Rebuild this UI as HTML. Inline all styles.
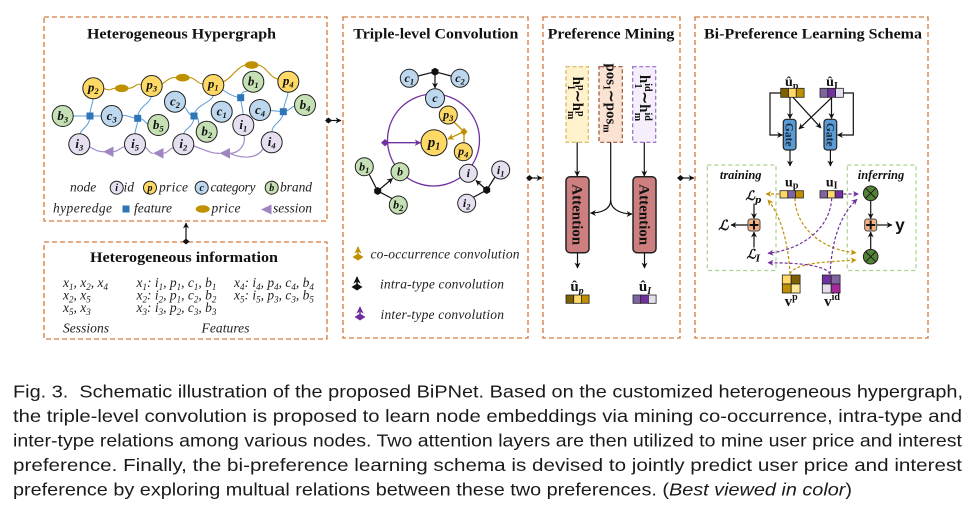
<!DOCTYPE html>
<html><head><meta charset="utf-8">
<style>
html,body{margin:0;padding:0;background:#fff;}
svg{display:block;}
.ttl{font-family:"Liberation Serif",serif;font-weight:bold;font-size:15px;fill:#111;}
.nl{font-family:"Liberation Serif",serif;font-style:italic;font-weight:bold;font-size:13px;fill:#111;}
.s{font-size:8.5px;}
.it{font-family:"Liberation Serif",serif;font-style:italic;font-size:13.5px;fill:#222;}
.sb{font-size:9px;}
.bx{fill:none;stroke:#d37a3c;stroke-width:1.3;stroke-dasharray:5,3;}
.nd{stroke:#222;stroke-width:1;}
.y{fill:#ffd966}.b{fill:#bdd7ee}.g{fill:#c5e0b4}.v{fill:#e6dff0}
.bl{fill:none;stroke:#5b9bd5;stroke-width:1;}
.gd{fill:none;stroke:#bf9000;stroke-width:1.1;}
.pu{fill:none;stroke:#a48bc9;stroke-width:1.2;}
.k{fill:none;stroke:#111;stroke-width:1.2;}
.cap{font-family:"Liberation Sans",sans-serif;font-size:17.5px;fill:#1a1a1a;}
.bd{font-family:"Liberation Serif",serif;font-weight:bold;fill:#111;}
.dg{fill:none;stroke:#bf9000;stroke-width:1.2;stroke-dasharray:3,2;}
.dp{fill:none;stroke:#7030a0;stroke-width:1.2;stroke-dasharray:3,2;}
</style></head>
<body>
<svg width="978" height="520" viewBox="0 0 978 520" xmlns="http://www.w3.org/2000/svg">
<defs>
<marker id="ak" viewBox="0 0 10 10" refX="9" refY="5" markerWidth="5" markerHeight="5" orient="auto"><path d="M0,0 L10,5 L0,10 L3,5z" fill="#111"/></marker>
<marker id="ag" viewBox="0 0 10 10" refX="9" refY="5" markerWidth="5" markerHeight="5" orient="auto"><path d="M0,0 L10,5 L0,10 L3,5z" fill="#bf9000"/></marker>
<marker id="ap" viewBox="0 0 10 10" refX="9" refY="5" markerWidth="5" markerHeight="5" orient="auto"><path d="M0,0 L10,5 L0,10 L3,5z" fill="#7030a0"/></marker>
</defs>
<rect width="978" height="520" fill="#fff"/>

<!-- boxes -->
<rect class="bx" x="44" y="17" width="283" height="204"/>
<rect class="bx" x="44" y="242" width="283" height="97"/>
<rect class="bx" x="343" y="17" width="185" height="321"/>
<rect class="bx" x="543" y="17" width="137" height="321"/>
<rect class="bx" x="695" y="17" width="233" height="321"/>

<!-- connectors -->
<path class="k" d="M328,120.5 L341,120.5" marker-end="url(#ak)"/>
<polygon points="325,120.5 328.5,117.5 332,120.5 328.5,123.5" fill="#111"/>
<path class="k" d="M530,178 L542,178" marker-end="url(#ak)"/>
<polygon points="526,178 529.5,175 533,178 529.5,181" fill="#111"/>
<path class="k" d="M682,178 L694,178" marker-end="url(#ak)"/>
<polygon points="677,178 680.5,175 684,178 680.5,181" fill="#111"/>
<path class="k" d="M186,240 L186,223" marker-end="url(#ak)"/>
<polygon points="182.5,241.5 186,238.5 189.5,241.5 186,244.5" fill="#111"/>

<!-- ===== Box 1 Hypergraph ===== -->
<text class="ttl" x="181.5" y="38.5" text-anchor="middle" textLength="189" lengthAdjust="spacingAndGlyphs">Heterogeneous Hypergraph</text>

<!-- blue feature edges -->
<path class="bl" d="M90,116 C90,106 93,104 93,99 M90,116 L73,116 M90,116 L101,116 M90,116 C90,126 82,128 80,134
M137.7,118.3 C138,106 150,104 151,97 M137.7,118.3 C130,118 126,114 122,116 M137.7,118.3 C144,118 146,124 148,124 M137.7,118.3 C138,126 135,128 135,134
M194,116 C188,116 186,106 184,107 M194,116 C195,105 212,102 213,96 M194,116 C200,116 198,124 199,125 M194,116 C194,128 184,128 184,134
M240.7,97.7 C232,97 226,92 223,90 M240.7,97.7 C241,90 247,92 247,91 M240.7,97.7 C241,105 243,108 243,114.5
M283.3,111.7 L270.5,110.5 M283.3,111.7 C290,111 292,106 295,106 M283.3,111.7 C284,102 288,98 288,92 M283.3,111.7 C283,122 272,124 272,131.5"/>
<!-- gold price edges -->
<path class="gd" d="M103.8,88.3 C110,92 112,88 115,88.3 M128,88.3 C134,89 137,82 141,85 M162,84 C168,80 170,77 176,77.7 M189,77.7 C195,77 197,84 203,84 M223,82 C232,78 236,68 245,65 M258,65 C266,66 270,78 278,79"/>
<!-- purple session edges -->
<path class="pu" d="M89.8,147 C95,150 99,152 104,151.7 M113,151.7 C118,152 122,146 124.5,147 M145.5,147 C150,152 150,153 153,153.3 M163.5,153.3 C168,153 170,148 173,148 M193.8,146 C205,150 212,154 220,153.3 M230,153.3 C240,153 246,144 244,135.5 M230,153.3 C240,158 256,160 263,149"/>
<!-- hyperedge shapes -->
<g fill="#2e75b6">
<rect x="86.5" y="112.5" width="7" height="7"/>
<rect x="134.2" y="114.8" width="7" height="7"/>
<rect x="190.5" y="112.5" width="7" height="7"/>
<rect x="237.2" y="94.2" width="7" height="7"/>
<rect x="279.8" y="108.2" width="7" height="7"/>
</g>
<g fill="#bf9000">
<ellipse cx="121.7" cy="88.3" rx="6.8" ry="3.8"/>
<ellipse cx="182.7" cy="77.7" rx="6.8" ry="3.8"/>
<ellipse cx="251.7" cy="65" rx="6.8" ry="3.8"/>
</g>
<g fill="#9f86c0">
<polygon points="103,151.7 113.5,146.5 113.5,157"/>
<polygon points="153,153.3 163.5,148 163.5,158.6"/>
<polygon points="219.5,153.3 230,148 230,158.6"/>
</g>
<!-- nodes -->
<g class="nd">
<circle class="y" cx="93.3" cy="88.3" r="10.5"/>
<circle class="y" cx="151.7" cy="86" r="10.5"/>
<circle class="y" cx="213.3" cy="85" r="10.5"/>
<circle class="g" cx="253.3" cy="81.7" r="10.5"/>
<circle class="y" cx="288.3" cy="81.7" r="10.5"/>
<circle class="b" cx="175" cy="101.7" r="10.5"/>
<circle class="b" cx="221.7" cy="111.7" r="10.5"/>
<circle class="b" cx="260" cy="110" r="10.5"/>
<circle class="g" cx="305" cy="105" r="10.5"/>
<circle class="g" cx="62.7" cy="116" r="10.5"/>
<circle class="b" cx="111.7" cy="116" r="10.5"/>
<circle class="g" cx="158.3" cy="125" r="10.5"/>
<circle class="g" cx="206.7" cy="131.7" r="10.5"/>
<circle class="v" cx="243.3" cy="125" r="10.5"/>
<circle class="v" cx="79.3" cy="144.3" r="10.5"/>
<circle class="v" cx="135" cy="144.3" r="10.5"/>
<circle class="v" cx="183.3" cy="144.3" r="10.5"/>
<circle class="v" cx="271.7" cy="142.3" r="10.5"/>
</g>
<g class="nl" text-anchor="middle">
<text x="93.3" y="91.5">p<tspan class="s" dy="2.5">2</tspan></text>
<text x="151.7" y="89.2">p<tspan class="s" dy="2.5">3</tspan></text>
<text x="213.3" y="88.2">p<tspan class="s" dy="2.5">1</tspan></text>
<text x="253.3" y="85.5">b<tspan class="s" dy="2.5">1</tspan></text>
<text x="288.3" y="84.9">p<tspan class="s" dy="2.5">4</tspan></text>
<text x="175" y="105.5">c<tspan class="s" dy="2.5">2</tspan></text>
<text x="221.7" y="115.5">c<tspan class="s" dy="2.5">1</tspan></text>
<text x="260" y="113.8">c<tspan class="s" dy="2.5">4</tspan></text>
<text x="305" y="108.8">b<tspan class="s" dy="2.5">4</tspan></text>
<text x="62.7" y="119.8">b<tspan class="s" dy="2.5">3</tspan></text>
<text x="111.7" y="119.8">c<tspan class="s" dy="2.5">3</tspan></text>
<text x="158.3" y="128.8">b<tspan class="s" dy="2.5">5</tspan></text>
<text x="206.7" y="135.5">b<tspan class="s" dy="2.5">2</tspan></text>
<text x="243.3" y="128.8">i<tspan class="s" dy="2.5">1</tspan></text>
<text x="79.3" y="148">i<tspan class="s" dy="2.5">3</tspan></text>
<text x="135" y="148">i<tspan class="s" dy="2.5">5</tspan></text>
<text x="183.3" y="148">i<tspan class="s" dy="2.5">2</tspan></text>
<text x="271.7" y="146">i<tspan class="s" dy="2.5">4</tspan></text>
</g>
<!-- legend -->
<g class="nd">
<circle class="v" cx="116.7" cy="187.7" r="6.5"/>
<circle class="y" cx="150" cy="187.7" r="6.5"/>
<circle class="b" cx="201.7" cy="187.7" r="6.5"/>
<circle class="g" cx="271.7" cy="187.7" r="6.5"/>
</g>
<g class="nl" text-anchor="middle" style="font-size:10px">
<text x="116.7" y="191">i</text><text x="150" y="191">p</text><text x="201.7" y="191">c</text><text x="271.7" y="191">b</text>
</g>
<g class="it">
<text x="70" y="191.5">node</text>
<text x="123.5" y="191.5">id</text>
<text x="159" y="191.5" textLength="29">price</text>
<text x="210.5" y="191.5" textLength="45">category</text>
<text x="280" y="191.5" textLength="32">brand</text>
<text x="53" y="212.5" textLength="59">hyperedge</text>
<text x="134" y="212.5" textLength="38">feature</text>
<text x="211.5" y="212.5" textLength="29">price</text>
<text x="273" y="212.5" textLength="39">session</text>
</g>
<rect x="122.5" y="205.5" width="7" height="7" fill="#2e75b6"/>
<ellipse cx="202.7" cy="209" rx="7" ry="3.8" fill="#bf9000"/>
<polygon points="261,209.5 271.5,204.5 271.5,214.5" fill="#9f86c0"/>

<!-- ===== Box 2 info ===== -->
<text class="ttl" x="184" y="262" text-anchor="middle" textLength="188" lengthAdjust="spacingAndGlyphs">Heterogeneous information</text>
<g class="it">
<text x="63" y="287">x<tspan class="sb" dy="3">1</tspan><tspan dy="-3">, x</tspan><tspan class="sb" dy="3">2</tspan><tspan dy="-3">, x</tspan><tspan class="sb" dy="3">4</tspan></text>
<text x="63" y="299.5">x<tspan class="sb" dy="3">2</tspan><tspan dy="-3">, x</tspan><tspan class="sb" dy="3">5</tspan></text>
<text x="63" y="312">x<tspan class="sb" dy="3">5</tspan><tspan dy="-3">, x</tspan><tspan class="sb" dy="3">3</tspan></text>
<text x="136.5" y="287">x<tspan class="sb" dy="3">1</tspan><tspan dy="-3">: i</tspan><tspan class="sb" dy="3">1</tspan><tspan dy="-3">, p</tspan><tspan class="sb" dy="3">1</tspan><tspan dy="-3">, c</tspan><tspan class="sb" dy="3">1</tspan><tspan dy="-3">, b</tspan><tspan class="sb" dy="3">1</tspan></text>
<text x="136.5" y="299.5">x<tspan class="sb" dy="3">2</tspan><tspan dy="-3">: i</tspan><tspan class="sb" dy="3">2</tspan><tspan dy="-3">, p</tspan><tspan class="sb" dy="3">1</tspan><tspan dy="-3">, c</tspan><tspan class="sb" dy="3">2</tspan><tspan dy="-3">, b</tspan><tspan class="sb" dy="3">2</tspan></text>
<text x="136.5" y="312">x<tspan class="sb" dy="3">3</tspan><tspan dy="-3">: i</tspan><tspan class="sb" dy="3">3</tspan><tspan dy="-3">, p</tspan><tspan class="sb" dy="3">2</tspan><tspan dy="-3">, c</tspan><tspan class="sb" dy="3">3</tspan><tspan dy="-3">, b</tspan><tspan class="sb" dy="3">3</tspan></text>
<text x="234" y="287">x<tspan class="sb" dy="3">4</tspan><tspan dy="-3">: i</tspan><tspan class="sb" dy="3">4</tspan><tspan dy="-3">, p</tspan><tspan class="sb" dy="3">4</tspan><tspan dy="-3">, c</tspan><tspan class="sb" dy="3">4</tspan><tspan dy="-3">, b</tspan><tspan class="sb" dy="3">4</tspan></text>
<text x="234" y="299.5">x<tspan class="sb" dy="3">5</tspan><tspan dy="-3">: i</tspan><tspan class="sb" dy="3">5</tspan><tspan dy="-3">, p</tspan><tspan class="sb" dy="3">3</tspan><tspan dy="-3">, c</tspan><tspan class="sb" dy="3">3</tspan><tspan dy="-3">, b</tspan><tspan class="sb" dy="3">5</tspan></text>
<text x="63" y="332.5" textLength="46">Sessions</text>
<text x="201.5" y="332.5" textLength="48">Features</text>
</g>

<!-- ===== Box 3 Triple-level ===== -->
<text class="ttl" x="435.8" y="38.5" text-anchor="middle" textLength="165" lengthAdjust="spacingAndGlyphs">Triple-level Convolution</text>
<circle cx="433.5" cy="140" r="46" fill="none" stroke="#7030a0" stroke-width="1.3"/>
<path class="k" d="M418,76 L435,71.7 L451,76"/>
<path class="k" d="M435,74 L435,88" marker-end="url(#ak)"/>
<polygon points="435,67.7 438.5,69.7 438.5,73.7 435,75.7 431.5,73.7 431.5,69.7" fill="#111"/>
<!-- purple inter-type -->
<path d="M388,142.7 L420.5,142.7" fill="none" stroke="#7030a0" stroke-width="1.3" marker-end="url(#ap)"/>
<polygon points="381,142.7 385,139 389,142.7 385,146.4" fill="#7030a0"/>
<!-- gold co-occurrence -->
<path class="gd" style="stroke-width:1.3" d="M454,122 L464,131.7 L464,142.7"/>
<path class="gd" style="stroke-width:1.3" d="M464,131.7 L448,139" marker-end="url(#ag)"/>
<polygon points="464,127.7 467.5,131.7 464,135.7 460.5,131.7" fill="#bf9000"/>
<!-- intra-type b / i -->
<path class="k" d="M369,174 L377.7,191 L392,198.5"/>
<path class="k" d="M377.7,191 L392.5,178.5" marker-end="url(#ak)"/>
<polygon points="377.7,187 381.2,189 381.2,193 377.7,195 374.2,193 374.2,189" fill="#111"/>
<path class="k" d="M495,177 L486.7,190 L473,197.5"/>
<path class="k" d="M486.7,190 L476,180.5" marker-end="url(#ak)"/>
<polygon points="486.7,186 490.2,188 490.2,192 486.7,194 483.2,192 483.2,188" fill="#111"/>
<g class="nd">
<circle class="b" cx="409.3" cy="78.3" r="9"/>
<circle class="b" cx="460" cy="78.3" r="9"/>
<circle class="b" cx="435" cy="98.3" r="9.5"/>
<circle class="y" cx="448.3" cy="115" r="9"/>
<circle class="y" cx="434" cy="142.7" r="13"/>
<circle class="y" cx="463.3" cy="151.7" r="9"/>
<circle class="g" cx="364.3" cy="166.7" r="9"/>
<circle class="g" cx="400" cy="171.7" r="9"/>
<circle class="g" cx="398.3" cy="205" r="9"/>
<circle class="v" cx="468.3" cy="173.3" r="9"/>
<circle class="v" cx="500.7" cy="170" r="9"/>
<circle class="v" cx="466.7" cy="203.3" r="9"/>
</g>
<g class="nl" text-anchor="middle" style="font-size:12px">
<text x="409.3" y="82">c<tspan class="s" dy="2.5">1</tspan></text>
<text x="460" y="82">c<tspan class="s" dy="2.5">2</tspan></text>
<text x="435" y="102">c</text>
<text x="448.3" y="118.5">p<tspan class="s" dy="2.5">3</tspan></text>
<text x="434" y="147" style="font-size:15px">p<tspan class="s" style="font-size:10px" dy="2.5">1</tspan></text>
<text x="463.3" y="155">p<tspan class="s" dy="2.5">4</tspan></text>
<text x="364.3" y="170.5">b<tspan class="s" dy="2.5">1</tspan></text>
<text x="400" y="175.5">b</text>
<text x="398.3" y="208.5">b<tspan class="s" dy="2.5">2</tspan></text>
<text x="468.3" y="177">i</text>
<text x="500.7" y="173.8">i<tspan class="s" dy="2.5">1</tspan></text>
<text x="466.7" y="207">i<tspan class="s" dy="2.5">2</tspan></text>
</g>
<!-- legend -->
<path d="M358,258 L358,247" stroke="#bf9000" stroke-width="1.5" marker-end="url(#ag)"/>
<polygon points="352.5,257 358,253.5 363.5,257 358,260.5" fill="#bf9000"/>
<path d="M357,288 L357,277" stroke="#111" stroke-width="1.5" marker-end="url(#ak)"/>
<polygon points="351.5,287 357,283.5 362.5,287 357,290.5" fill="#111"/>
<path d="M360,318 L360,307" stroke="#7030a0" stroke-width="1.5" marker-end="url(#ap)"/>
<polygon points="354.5,317 360,313.5 365.5,317 360,320.5" fill="#7030a0"/>
<g class="it">
<text x="370.5" y="258.5" textLength="149">co-occurrence convolution</text>
<text x="380" y="288.5" textLength="124">intra-type convolution</text>
<text x="380.5" y="319" textLength="123.5">inter-type convolution</text>
</g>

<!-- ===== Box 4 Preference Mining ===== -->
<text class="ttl" x="611" y="38.5" text-anchor="middle" textLength="126.7" lengthAdjust="spacingAndGlyphs">Preference Mining</text>
<rect x="566" y="66.7" width="22.3" height="75.6" fill="#fff2cc" stroke="#d6b656" stroke-width="1.2" stroke-dasharray="4,2.5"/>
<rect x="599" y="66.7" width="23.3" height="75.6" fill="#fbe3d3" stroke="#a0522d" stroke-width="1.2" stroke-dasharray="4,2.5"/>
<rect x="632.7" y="66.7" width="23" height="75.6" fill="#f4effa" stroke="#9966cc" stroke-width="1.2" stroke-dasharray="4,2.5"/>
<g class="bd" style="font-size:15px">
<text transform="translate(577.2,98) rotate(90)" text-anchor="middle" y="4">h<tspan font-size="10" dy="-5">p</tspan><tspan font-size="10" dx="-5.5" dy="10">1</tspan><tspan dy="-5">∼h</tspan><tspan font-size="10" dy="-5">p</tspan><tspan font-size="10" dx="-5.5" dy="10">m</tspan></text>
<text transform="translate(610.7,98) rotate(90)" text-anchor="middle" y="4">pos<tspan font-size="10" dy="3">1</tspan><tspan dy="-3">∼pos</tspan><tspan font-size="10" dy="3">m</tspan></text>
<text transform="translate(644.2,98) rotate(90)" text-anchor="middle" y="4">h<tspan font-size="10" dy="-5">id</tspan><tspan font-size="10" dx="-8" dy="10">1</tspan><tspan dx="3" dy="-5">∼h</tspan><tspan font-size="10" dy="-5">id</tspan><tspan font-size="10" dx="-8" dy="10">m</tspan></text>
</g>
<path class="k" d="M577.2,142.3 L577.2,176" marker-end="url(#ak)"/>
<path class="k" d="M644.3,142.3 L644.3,176" marker-end="url(#ak)"/>
<path class="k" d="M610.7,142.3 L610.7,200 C610.7,210 600,213 590.5,213" marker-end="url(#ak)"/>
<path class="k" d="M610.7,200 C610.7,210 622,214 632,214" marker-end="url(#ak)"/>
<rect x="566" y="176.7" width="23" height="76" rx="4" fill="#cd7e7e" stroke="#222" stroke-width="1.5"/>
<rect x="633" y="176.7" width="23" height="76" rx="4" fill="#cd7e7e" stroke="#222" stroke-width="1.5"/>
<g class="bd" style="font-size:15px" text-anchor="middle">
<text transform="translate(577.5,214.7) rotate(90)" y="5">Attention</text>
<text transform="translate(644.5,214.7) rotate(90)" y="5">Attention</text>
</g>
<path class="k" d="M577.5,252.7 L577.5,268" marker-end="url(#ak)"/>
<path class="k" d="M644.5,252.7 L644.5,268" marker-end="url(#ak)"/>
<text class="bd" x="577" y="291" text-anchor="middle" style="font-size:15px">û<tspan font-style="italic" font-size="10" dy="3">p</tspan></text>
<text class="bd" x="645" y="291" text-anchor="middle" style="font-size:15px">û<tspan font-style="italic" font-size="10" dy="3">I</tspan></text>
<g stroke="#222" stroke-width="0.8">
<rect x="566" y="295" width="7.7" height="8.3" fill="#7f6000"/><rect x="573.7" y="295" width="7.7" height="8.3" fill="#ffd966"/><rect x="581.4" y="295" width="7.7" height="8.3" fill="#bf9000"/>
<rect x="633" y="295" width="7.7" height="8.3" fill="#8064a2"/><rect x="640.7" y="295" width="7.7" height="8.3" fill="#7030a0"/><rect x="648.4" y="295" width="7.7" height="8.3" fill="#e4dfec"/>
</g>

<!-- ===== Box 5 Bi-Preference ===== -->
<text class="ttl" x="813" y="38.5" text-anchor="middle" textLength="218" lengthAdjust="spacingAndGlyphs">Bi-Preference Learning Schema</text>
<text class="bd" x="791.7" y="86" text-anchor="middle" style="font-size:14px">û<tspan font-size="10" dy="3">p</tspan></text>
<text class="bd" x="832" y="86" text-anchor="middle" style="font-size:14px">û<tspan font-size="10" dy="3">I</tspan></text>
<g stroke="#222" stroke-width="0.8">
<rect x="780.7" y="88.3" width="7.8" height="9" fill="#7f6000"/><rect x="788.5" y="88.3" width="7.8" height="9" fill="#ffd966"/><rect x="796.3" y="88.3" width="7.8" height="9" fill="#bf9000"/>
<rect x="820" y="88.3" width="7.8" height="9" fill="#8064a2"/><rect x="827.8" y="88.3" width="7.8" height="9" fill="#7030a0"/><rect x="835.6" y="88.3" width="7.8" height="9" fill="#e4dfec"/>
</g>
<path class="k" d="M780.7,93 L770,93 L770,135 L782.5,135" marker-end="url(#ak)"/>
<path class="k" d="M843.3,93 L853.3,93 L853.3,135 L837.5,135" marker-end="url(#ak)"/>
<path class="k" d="M790,97.3 L790,118.5" marker-end="url(#ak)"/>
<path class="k" d="M831.5,97.3 L831.5,118.5" marker-end="url(#ak)"/>
<path class="k" d="M793,97.3 L821,128" marker-end="url(#ak)"/>
<path class="k" d="M832,97.3 L799,129" marker-end="url(#ak)"/>
<rect x="783.3" y="119.3" width="12.7" height="30.7" rx="3" fill="#5b9bd5" stroke="#222" stroke-width="1.2"/>
<rect x="824" y="119.3" width="12.7" height="30.7" rx="3" fill="#5b9bd5" stroke="#222" stroke-width="1.2"/>
<g class="bd" style="font-size:11.5px;fill:#1a2a3a" text-anchor="middle">
<text transform="translate(789.7,134.7) rotate(90)" y="4">Gate</text>
<text transform="translate(830.4,134.7) rotate(90)" y="4">Gate</text>
</g>
<path class="k" d="M790,150 L790,166" marker-end="url(#ak)"/>
<path class="k" d="M830.4,150 L830.4,166" marker-end="url(#ak)"/>
<!-- training / inferring boxes -->
<rect x="707.3" y="165" width="68.7" height="105.5" fill="none" stroke="#a9d18e" stroke-width="1.2" stroke-dasharray="4,3"/>
<rect x="847.3" y="165" width="68.7" height="105.5" fill="none" stroke="#a9d18e" stroke-width="1.2" stroke-dasharray="4,3"/>
<text class="nl" x="740.7" y="179" text-anchor="middle" style="font-size:12.5px">training</text>
<text class="nl" x="881" y="179" text-anchor="middle" style="font-size:12.5px">inferring</text>
<text class="bd" x="791.7" y="186.5" text-anchor="middle" style="font-size:14px">u<tspan font-size="10" dy="2">p</tspan></text>
<text class="bd" x="831.7" y="186.5" text-anchor="middle" style="font-size:14px">u<tspan font-size="10" dy="2">I</tspan></text>
<g stroke="#222" stroke-width="0.8">
<rect x="780" y="190.7" width="7.8" height="7.3" fill="#ffd966"/><rect x="787.8" y="190.7" width="7.8" height="7.3" fill="#8064a2"/><rect x="795.6" y="190.7" width="7.8" height="7.3" fill="#bf9000"/>
<rect x="820" y="190.7" width="7.6" height="7.3" fill="#8064a2"/><rect x="827.6" y="190.7" width="7.6" height="7.3" fill="#ffd966"/><rect x="835.2" y="190.7" width="7.6" height="7.3" fill="#7030a0"/>
</g>
<!-- dashed flows -->
<path class="dg" d="M779,194 L766,194" marker-end="url(#ag)"/>
<path class="dg" d="M795,198.3 C795,225 820,250 856,252.7" marker-end="url(#ag)"/>
<path class="dg" d="M790,274 C788,240 780,215 768,200" marker-end="url(#ag)"/>
<path class="dg" d="M790,274 C795,262 830,262 856,260" marker-end="url(#ag)"/>
<path class="dp" d="M843.5,194 L858.5,194" marker-end="url(#ap)"/>
<path class="dp" d="M831.7,198.3 C830,230 800,250 768,253.3" marker-end="url(#ap)"/>
<path class="dp" d="M830,274 C832,240 840,215 857,199.3" marker-end="url(#ap)"/>
<path class="dp" d="M830,274 C825,265 800,263 768,262.7" marker-end="url(#ap)"/>
<!-- training side -->
<text x="753.3" y="200" text-anchor="middle" style="font-family:'DejaVu Serif',serif;font-style:italic;font-weight:bold;font-size:13px;fill:#111">ℒ<tspan font-size="9" dy="3">p</tspan></text>
<text x="753.3" y="258.5" text-anchor="middle" style="font-family:'DejaVu Serif',serif;font-style:italic;font-weight:bold;font-size:13px;fill:#111">ℒ<tspan font-size="9" dy="3">I</tspan></text>
<text x="723.3" y="230" text-anchor="middle" style="font-family:'DejaVu Serif',serif;font-style:italic;font-weight:bold;font-size:14px;fill:#111">ℒ</text>
<path class="k" d="M754,203.5 L754,218.5" marker-end="url(#ak)"/>
<path class="k" d="M754,247.5 L754,232" marker-end="url(#ak)"/>
<path class="k" d="M747.5,225 L731,225" marker-end="url(#ak)"/>
<rect x="748" y="219" width="12" height="12" rx="2.5" fill="#f4b183" stroke="#444" stroke-width="1"/>
<path d="M754,220.5 L754,229.5 M749.5,225 L758.5,225" stroke="#111" stroke-width="2"/>
<!-- inferring side -->
<path class="k" d="M870.7,201 L870.7,218.5" marker-end="url(#ak)"/>
<path class="k" d="M870.7,249 L870.7,232" marker-end="url(#ak)"/>
<path class="k" d="M877,225 L892,225" marker-end="url(#ak)"/>
<rect x="864.7" y="219" width="12" height="12" rx="2.5" fill="#f4b183" stroke="#444" stroke-width="1"/>
<path d="M870.7,220.5 L870.7,229.5 M866.2,225 L875.2,225" stroke="#111" stroke-width="2"/>
<circle cx="870.7" cy="193.3" r="7.3" fill="#548235" stroke="#222" stroke-width="1"/>
<path d="M865.6,188.2 L875.8,198.4 M875.8,188.2 L865.6,198.4" stroke="#1a1a1a" stroke-width="1"/>
<circle cx="870.7" cy="256.7" r="7.3" fill="#548235" stroke="#222" stroke-width="1"/>
<path d="M865.6,251.6 L875.8,261.8 M875.8,251.6 L865.6,261.8" stroke="#1a1a1a" stroke-width="1"/>
<text x="900" y="230.5" text-anchor="middle" style="font-family:'Liberation Sans',sans-serif;font-weight:bold;font-size:17px;fill:#111">y</text>
<!-- v grids -->
<g stroke="#222" stroke-width="0.8">
<rect x="782.3" y="275" width="8.9" height="9" fill="#ffd966"/><rect x="791.2" y="275" width="8.9" height="9" fill="#7f6000"/>
<rect x="782.3" y="284" width="8.9" height="9" fill="#bf9000"/><rect x="791.2" y="284" width="8.9" height="9" fill="#ffe699"/>
<rect x="822.3" y="275" width="8.9" height="9" fill="#7030a0"/><rect x="831.2" y="275" width="8.9" height="9" fill="#8064a2"/>
<rect x="822.3" y="284" width="8.9" height="9" fill="#e4dfec"/><rect x="831.2" y="284" width="8.9" height="9" fill="#a6279b"/>
</g>
<text class="bd" x="791.2" y="306" text-anchor="middle" style="font-size:15px">v<tspan font-size="10" dy="-6">p</tspan></text>
<text class="bd" x="832" y="306" text-anchor="middle" style="font-size:15px">v<tspan font-size="10" dy="-6">id</tspan></text>

<!-- ===== Caption ===== -->
<g class="cap">
<text x="13" y="397.5" textLength="950" lengthAdjust="spacingAndGlyphs">Fig. 3.&#160; Schematic illustration of the proposed BiPNet. Based on the customized heterogeneous hypergraph,</text>
<text x="13" y="422" textLength="949" lengthAdjust="spacingAndGlyphs">the triple-level convolution is proposed to learn node embeddings via mining co-occurrence, intra-type and</text>
<text x="13" y="446.5" textLength="949" lengthAdjust="spacingAndGlyphs">inter-type relations among various nodes. Two attention layers are then utilized to mine user price and interest</text>
<text x="13" y="471" textLength="949" lengthAdjust="spacingAndGlyphs">preference. Finally, the bi-preference learning schema is devised to jointly predict user price and interest</text>
<text x="13" y="495.5" textLength="839" lengthAdjust="spacingAndGlyphs">preference by exploring multual relations between these two preferences. (<tspan font-style="italic">Best viewed in color</tspan>)</text>
</g>
</svg>
</body></html>
